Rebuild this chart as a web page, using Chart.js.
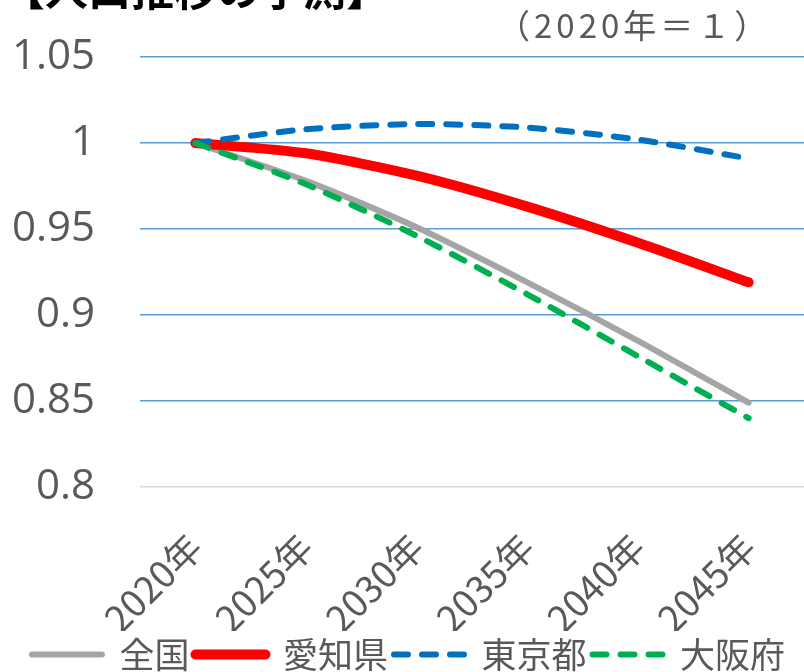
<!DOCTYPE html>
<html>
<head>
<meta charset="utf-8">
<script src="https://cdn.jsdelivr.net/npm/chart.js@4.4.1/dist/chart.umd.min.js"></script>
<style>
    html, body { margin: 0; padding: 0; background: #fff; overflow: hidden; }
    #wrap { width: 804px; height: 672px; position: relative; }
</style>
</head>
<body>
<div id="wrap"><canvas id="c"></canvas></div>
<script>
(function(){

    "use strict"

    // data (2020 = 1)
    const years = ["2020年", "2025年", "2030年", "2035年", "2040年", "2045年"];
    const zenkoku = [1, 0.978, 0.951, 0.919, 0.885, 0.849];
    const aichi = [1, 0.994, 0.981, 0.963, 0.942, 0.919];
    const tokyo = [1, 1.008, 1.011, 1.009, 1.002, 0.991];
    const osaka = [1, 0.976, 0.946, 0.912, 0.876, 0.840];
    const yTickLabels = ["0.8", "0.85", "0.9", "0.95", "1", "1.05"];

    const titleText = "【人口推移の予測】";
    const noteText = "（2020年＝１）";

    const grey = "#595959";
    const font = "'Noto Sans CJK JP', 'Noto Sans', sans-serif";

    // title (cut off at the top) and the base-year note
    const textPlugin = {
        id: "texts",
        afterDraw(chart) {
            const ctx = chart.ctx;
            ctx.save();
            ctx.fillStyle = "#000";
            ctx.font = "bold 43px " + font;
            ctx.textBaseline = "alphabetic";
            ctx.textAlign = "left";
            ctx.fillText(titleText, 2, 6);
            ctx.fillStyle = grey;
            ctx.font = "33px " + font;
            ctx.letterSpacing = "4px";
            ctx.textBaseline = "middle";
            ctx.fillText(noteText, 497, 25);
            ctx.restore();
        }
    };

    function line(label, data, color, width, dash, order) {
        return {
            label: label,
            data: data,
            borderColor: color,
            backgroundColor: color,
            borderWidth: width,
            borderDash: dash,
            borderCapStyle: "round",
            borderJoinStyle: "round",
            pointRadius: 0,
            tension: 0.25,
            order: order
        };
    }

    // legend entries drawn as short lines with the series' own dash and width
    function legendLabels(chart) {
        const items = Chart.defaults.plugins.legend.labels.generateLabels(chart);
        return items.map(item => {
            const ds = chart.data.datasets[item.datasetIndex];
            item.lineDash = ds.borderDash;
            item.lineWidth = ds.borderWidth;
            item.strokeStyle = ds.borderColor;
            item.lineCap = "round";
            return item;
        });
    }

    new Chart(document.getElementById("c"), {
        type: "line",
        data: {
            labels: years,
            datasets: [
                line("全国", zenkoku, "#A5A5A5", 6, [], 4),
                line("愛知県", aichi, "#FF0000", 10, [], 3),
                line("東京都", tokyo, "#0070C0", 6, [14, 14], 2),
                line("大阪府", osaka, "#00B050", 6, [14, 14], 1)
            ]
        },
        plugins: [textPlugin],
        options: {
            responsive: true,
            maintainAspectRatio: false,
            animation: false,
            layout: { padding: { left: 13, top: 57, right: 0, bottom: -10 } },
            plugins: {
                tooltip: { enabled: false },
                legend: {
                    position: "bottom",
                    labels: {
                        usePointStyle: true,
                        pointStyle: "line",
                        pointStyleWidth: 70,
                        boxHeight: 6,
                        padding: 6,
                        color: grey,
                        font: { family: font, size: 35 },
                        generateLabels: legendLabels,
                        sort: (a, b) => a.datasetIndex - b.datasetIndex
                    }
                }
            },
            scales: {
                x: {
                    offset: true,
                    grid: { display: false },
                    border: { display: false },
                    ticks: {
                        color: grey,
                        font: { family: font, size: 37 },
                        minRotation: 45,
                        maxRotation: 45,
                        padding: 30
                    },
                    // let the rotated labels hang out like in the original
                    afterFit: s => {
                        s.paddingLeft = 0;
                        s.paddingRight = 0;
                        s.height = 144;
                    }
                },
                y: {
                    min: 0.8,
                    max: 1.05,
                    border: { display: false },
                    grid: {
                        drawTicks: false,
                        lineWidth: 1.5,
                        color: c => c.index === 0 ? "#D9D9D9" : "#5B9BD5"
                    },
                    ticks: {
                        stepSize: 0.05,
                        padding: 45,
                        color: grey,
                        font: { family: "'Open Sans', sans-serif", size: 42 },
                        callback: (v, i) => yTickLabels[i]
                    },
                    afterFit: s => {
                        s.width = 127;
                        s.paddingTop = 0;
                        s.paddingBottom = 0;
                    }
                }
            }
        }
    });

}());
</script>
</body>
</html>
